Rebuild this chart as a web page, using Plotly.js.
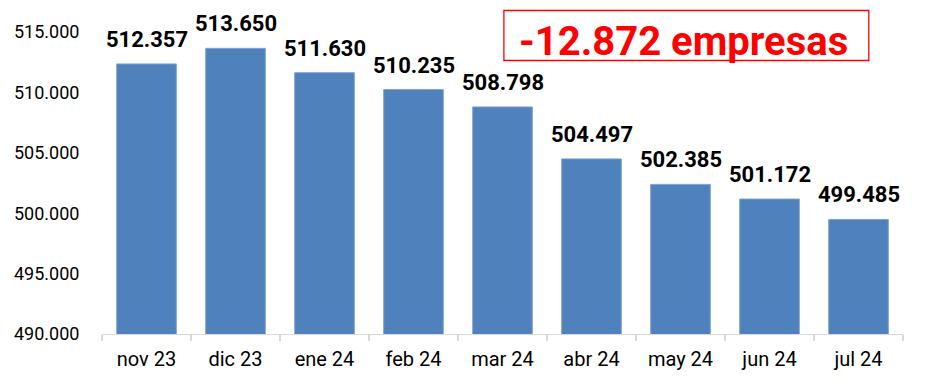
<!DOCTYPE html>
<html>
<head>
<meta charset="utf-8">
<script src="https://cdn.plot.ly/plotly-3.0.1.min.js"></script>
<style>html,body{margin:0;padding:0;background:#fff;}#chart{width:925px;height:389px;}</style>
</head>
<body>
<div id="chart"></div>
<script>
const months = ["nov 23","dic 23","ene 24","feb 24","mar 24","abr 24","may 24","jun 24","jul 24"];
const empresas = [512357, 513650, 511630, 510235, 508798, 504497, 502385, 501172, 499485];
const yTicks = [490000, 495000, 500000, 505000, 510000, 515000];
const boxText = "-12.872 empresas";

const fmt = v => v.toString().replace(/\B(?=(\d{3})+(?!\d))/g, ".");

const trace = {
  type: "bar",
  x: months,
  y: empresas,
  marker: {color: "#4f81bd", line: {color: "#7fa3d0", width: 1}},
  hoverinfo: "none"
};

const labelAnns = months.map((m, i) => ({
  x: m, y: empresas[i], xref: "x", yref: "y",
  text: "<b>" + fmt(empresas[i]) + "</b>",
  showarrow: false, yanchor: "bottom", yshift: 10,
  font: {family: "Roboto", size: 22, color: "#000"}
}));

// plot area in pixels: left 101.5, right 902.7, top 32, bottom 334
const px = x => (x - 101.5) / 801.2;
const py = y => (334 - y) / 302;

const layout = {
  width: 925, height: 389,
  margin: {l: 101.5, r: 22.3, t: 32, b: 55},
  paper_bgcolor: "#fff", plot_bgcolor: "#fff",
  showlegend: false,
  bargap: 0.33,
  font: {family: "Roboto", color: "#000"},
  xaxis: {
    type: "category",
    showline: true, linecolor: "#d9d9d9", linewidth: 1.3,
    ticks: "outside", tickson: "boundaries", ticklen: 6, tickcolor: "#d9d9d9", tickwidth: 1.3,
    ticklabelstandoff: 7,
    tickfont: {family: "Roboto", size: 20, color: "#000"},
    showgrid: false, zeroline: false
  },
  yaxis: {
    range: [490000, 515000],
    tickvals: yTicks,
    ticktext: yTicks.map(fmt),
    showline: false, showgrid: false, zeroline: false,
    ticks: "outside", ticklen: 18, tickcolor: "rgba(0,0,0,0)",
    tickfont: {family: "Roboto", size: 18, color: "#000"}
  },
  shapes: [{
    type: "rect", xref: "paper", yref: "paper",
    x0: px(503.5), x1: px(868.5), y0: py(60.5), y1: py(10.5),
    line: {color: "#ff0000", width: 1.3}, fillcolor: "rgba(0,0,0,0)"
  }],
  annotations: labelAnns.concat([{
    xref: "paper", yref: "paper",
    x: px(683), y: py(41),
    xanchor: "center", yanchor: "middle",
    text: "<b>" + boxText + "</b>",
    showarrow: false,
    font: {family: "Roboto", size: 40, color: "#ff0000"}
  }])
};

Plotly.newPlot("chart", [trace], layout, {displayModeBar: false, staticPlot: true});
</script>
</body>
</html>
